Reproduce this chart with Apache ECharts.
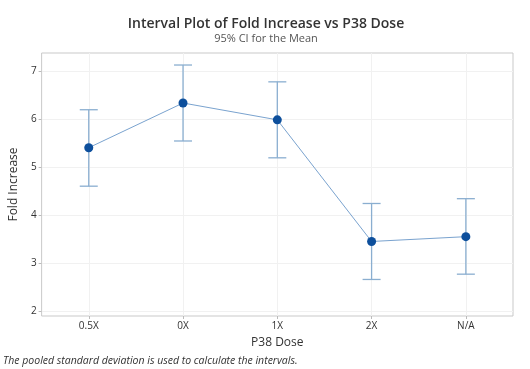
<!DOCTYPE html>
<html><head><meta charset="utf-8">
<script src="https://cdn.jsdelivr.net/npm/echarts@6/dist/echarts.min.js"></script>
<style>html,body{margin:0;padding:0;background:#fff}#c{width:530px;height:369px}</style>
</head><body><div id="c"></div>
<script>
const categories = ['0.5X','0X','1X','2X','N/A'];
const means = [5.40, 6.33, 5.98, 3.45, 3.55];
const lower = [4.60, 5.54, 5.19, 2.66, 2.77];
const upper = [6.19, 7.12, 6.77, 4.24, 4.34];
const yTicks = [2,3,4,5,6,7];

const FONT = '"Open Sans", "Noto Sans", sans-serif';
const chart = echarts.init(document.getElementById('c'));
chart.setOption({
  animation: false,
  backgroundColor: '#fff',
  title: {
    text: 'Interval Plot of Fold Increase vs P38 Dose',
    subtext: '95% CI for the Mean',
    left: 261, top: 12, textAlign: 'center', itemGap: 2,
    textStyle: {fontFamily: FONT, fontSize: 14, fontWeight: 600, color: '#333'},
    subtextStyle: {fontFamily: FONT, fontSize: 11, color: '#555'}
  },
  grid: {left: 39, right: 17, top: 53, bottom: 53, show: true, borderColor: '#c9c9c9', borderWidth: 1, containLabel: false},
  xAxis: {
    type: 'category', data: categories, boundaryGap: true,
    name: 'P38 Dose', nameLocation: 'middle', nameGap: 21,
    nameTextStyle: {fontFamily: FONT, fontSize: 12, color: '#333'},
    axisLine: {show: false},
    axisTick: {show: true, alignWithLabel: true, length: 3, lineStyle: {color: '#bbb'}},
    axisLabel: {fontFamily: FONT, fontSize: 10, color: '#333', margin: 5},
    splitLine: {show: false}
  },
  yAxis: {
    type: 'value', min: 1.9, max: 7.37,
    name: 'Fold Increase', nameLocation: 'middle', nameGap: 15,
    nameTextStyle: {fontFamily: FONT, fontSize: 12, color: '#333'},
    axisLine: {show: false},
    axisTick: {show: true, length: 3, customValues: yTicks, lineStyle: {color: '#bbb'}},
    axisLabel: {fontFamily: FONT, fontSize: 10, color: '#333', margin: 5, customValues: yTicks},
    splitLine: {show: false}
  },
  series: [
    {
      type: 'custom',
      renderItem: function (params, api) {
        const i = api.value(0);
        const lo = api.coord([i, api.value(1)]);
        const hi = api.coord([i, api.value(2)]);
        const w = 9;
        const st = {stroke: '#8aaed0', lineWidth: 1.3, fill: null};
        return {type: 'group', children: [
          {type: 'line', shape: {x1: lo[0], y1: lo[1], x2: hi[0], y2: hi[1]}, style: st},
          {type: 'line', shape: {x1: lo[0]-w, y1: lo[1], x2: lo[0]+w, y2: lo[1]}, style: st},
          {type: 'line', shape: {x1: hi[0]-w, y1: hi[1], x2: hi[0]+w, y2: hi[1]}, style: st}
        ]};
      },
      data: categories.map((c, i) => [i, lower[i], upper[i]]),
      z: 2
    },
    {
      type: 'line', data: means, symbol: 'circle', symbolSize: 9,
      lineStyle: {color: '#7aa3cf', width: 1},
      itemStyle: {color: '#0d4f9c'},
      z: 3,
      markLine: {
        silent: true, symbol: 'none', label: {show: false},
        lineStyle: {color: '#f1f1f1', width: 1, type: 'solid'},
        data: yTicks.map(v => ({yAxis: v})).concat(categories.map(c => ({xAxis: c}))),
        z: 0
      }
    }
  ],
  graphic: [{
    type: 'text', left: 3, top: 356,
    style: {text: 'The pooled standard deviation is used to calculate the intervals.', fontFamily: FONT, fontSize: 10.5, fontStyle: 'italic', fill: '#333'}
  }]
});
</script></body></html>
